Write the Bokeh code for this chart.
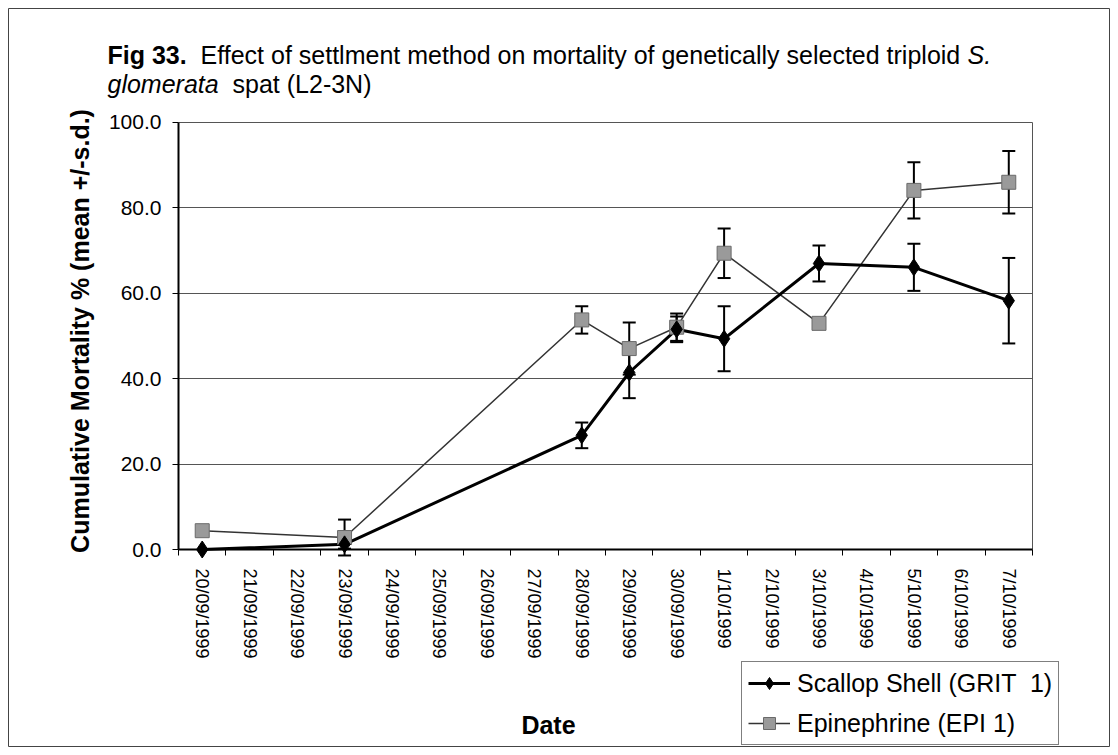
import math
from bokeh.plotting import figure
from bokeh.models import (ColumnDataSource, Range1d, FixedTicker, Whisker, TeeHead,
                          Legend, LegendItem, Label, NumeralTickFormatter, LinearAxis, Grid)
from bokeh.embed import file_html
from bokeh.resources import INLINE

# ---------------- data ----------------
days = ["20/09/1999", "21/09/1999", "22/09/1999", "23/09/1999", "24/09/1999",
        "25/09/1999", "26/09/1999", "27/09/1999", "28/09/1999", "29/09/1999",
        "30/09/1999", "1/10/1999", "2/10/1999", "3/10/1999", "4/10/1999",
        "5/10/1999", "6/10/1999", "7/10/1999"]
obs_days = ["20/09/1999", "23/09/1999", "28/09/1999", "29/09/1999", "30/09/1999",
            "1/10/1999", "3/10/1999", "5/10/1999", "7/10/1999"]
grit_mean = [0.0, 1.2, 26.7, 41.4, 51.5, 49.3, 66.9, 66.0, 58.2]
grit_sd = [0.0, 1.0, 3.0, 6.0, 3.0, 7.6, 4.2, 5.5, 10.0]
epi_mean = [4.4, 2.8, 53.7, 47.0, 52.0, 69.3, 52.9, 84.0, 85.9]
epi_sd = [0.0, 4.2, 3.2, 6.1, 3.2, 5.8, 1.0, 6.6, 7.3]
y_ticks = [0, 20, 40, 60, 80, 100]

grit_label = "Scallop Shell (GRIT  1)"
epi_label = "Epinephrine (EPI 1)"
x_title = "Date"
y_title = "Cumulative Mortality %  (mean +/-s.d.)"

FONT = "Liberation Sans"

# ---------------- layout (pixels) ----------------
FIG_W, FIG_H = 1110, 747
MB_L, MB_T, MB_R, MB_B = 8, 8, 0, 0
PLOT_L, PLOT_R, PLOT_T, PLOT_B = 178, 1032, 121.5, 549
N = len(days)
Y_MAX = 100.0

sx_unit = (PLOT_R - PLOT_L) / N
sy_unit = (PLOT_B - PLOT_T) / Y_MAX
x0 = -(PLOT_L - MB_L) / sx_unit
x1 = x0 + (FIG_W - MB_L - MB_R) / sx_unit
y1 = (PLOT_B - MB_T) / sy_unit
y0 = y1 - (FIG_H - MB_T - MB_B) / sy_unit


def dx(px):
    return (px - PLOT_L) / sx_unit


def dy(py):
    return (PLOT_B - py) / sy_unit


W_REG = {' ': 278, '(': 333, ')': 333, '-': 333, '.': 278, '/': 278, '2': 556, '3': 556,
         'E': 667, 'L': 556, 'N': 722, 'S': 667, 'a': 556, 'c': 500, 'd': 556, 'e': 556,
         'f': 278, 'g': 556, 'h': 556, 'i': 222, 'l': 222, 'm': 833, 'n': 556, 'o': 556,
         'p': 556, 'r': 333, 's': 500, 't': 278, 'y': 500}
W_BOLD = {'F': 611, 'i': 278, 'g': 611, ' ': 278, '3': 556, '.': 278}


def tw(s, px, bold=False):
    tab = W_BOLD if bold else W_REG
    return sum(tab.get(c, 556) for c in s) * px / 1000.0


x_pos = [days.index(d) + 0.5 for d in obs_days]

p = figure(width=FIG_W, height=FIG_H, output_backend="svg", toolbar_location=None,
           title=None, x_axis_location=None, y_axis_location=None,
           x_range=Range1d(x0, x1), y_range=Range1d(y0, y1),
           min_border_left=MB_L, min_border_right=MB_R, min_border_top=MB_T,
           min_border_bottom=MB_B)
p.outline_line_color = "#444"
p.outline_line_width = 1
for g in p.grid:
    g.visible = False

# grid lines inside the plot area + plot-area right border
try:
    hgrid = Grid(dimension=1, ticker=FixedTicker(ticks=y_ticks[1:]), bounds=(0, Y_MAX),
                 cross_bounds=(0, N), grid_line_color="#555", grid_line_width=1)
    vgrid = Grid(dimension=0, ticker=FixedTicker(ticks=[N]), bounds=(0, N),
                 cross_bounds=(0, Y_MAX), grid_line_color="#555", grid_line_width=1)
    p.add_layout(hgrid)
    p.add_layout(vgrid)
except Exception:
    p.segment(x0=[0] * (len(y_ticks) - 1), x1=[N] * (len(y_ticks) - 1),
              y0=y_ticks[1:], y1=y_ticks[1:], line_color="#555", line_width=1,
              level="underlay")
    p.segment(x0=[N], x1=[N], y0=[0], y1=[Y_MAX], line_color="#555", line_width=1,
              level="underlay")

# y axis
yaxis = LinearAxis(fixed_location=0, bounds=(0, Y_MAX),
                   ticker=FixedTicker(ticks=y_ticks),
                   formatter=NumeralTickFormatter(format="0.0"),
                   major_label_text_font=FONT, major_label_text_font_size="21px",
                   major_label_text_color="black",
                   major_tick_out=6, major_tick_in=0, minor_tick_out=0, minor_tick_in=0,
                   major_label_standoff=11, axis_line_width=2, axis_line_color="black",
                   major_tick_line_color="black")
p.add_layout(yaxis, "left")

# x axis (ticks between day categories, labels at category centres)
xaxis = LinearAxis(fixed_location=0, bounds=(0, N),
                   ticker=FixedTicker(ticks=[i + 0.5 for i in range(N)],
                                      minor_ticks=list(range(N + 1))),
                   major_label_overrides={i + 0.5: d for i, d in enumerate(days)},
                   major_label_orientation=-math.pi / 2,
                   major_label_text_font=FONT, major_label_text_font_size="18px",
                   major_label_text_color="black",
                   major_tick_out=0, major_tick_in=0, minor_tick_out=6, minor_tick_in=0,
                   minor_tick_line_color="black", major_label_standoff=13,
                   axis_line_color="black", axis_line_width=2)
p.add_layout(xaxis, "below")

# error bars
def whisker_source(means, sds):
    xs, lo, hi = [], [], []
    for x, m, s in zip(x_pos, means, sds):
        if s > 0:
            xs.append(x)
            lo.append(m - s)
            hi.append(m + s)
    return ColumnDataSource(dict(x=xs, lo=lo, hi=hi))

for means, sds in ((grit_mean, grit_sd), (epi_mean, epi_sd)):
    w = Whisker(source=whisker_source(means, sds), base="x", lower="lo", upper="hi",
                line_color="black", line_width=2, level="underlay",
                upper_head=TeeHead(size=13, line_color="black", line_width=2),
                lower_head=TeeHead(size=13, line_color="black", line_width=2))
    p.add_layout(w)

src_g = ColumnDataSource(dict(x=x_pos, y=grit_mean))
src_e = ColumnDataSource(dict(x=x_pos, y=epi_mean))

e_line = p.line("x", "y", source=src_e, line_color="#333333", line_width=1.5)
g_line = p.line("x", "y", source=src_g, line_color="black", line_width=3)
e_pts = p.scatter("x", "y", source=src_e, marker="square", size=14,
                  fill_color="#9a9a9a", line_color="#6a6a6a", line_width=1)
g_pts = p.scatter("x", "y", source=src_g, marker="diamond", size=17,
                  fill_color="black", line_color="black")

legend = Legend(items=[LegendItem(label=grit_label, renderers=[g_line, g_pts]),
                       LegendItem(label=epi_label, renderers=[e_line, e_pts])],
                location=(741 - MB_L, (FIG_H - MB_B) - 745),
                border_line_color="black", border_line_width=1,
                background_fill_color="white", background_fill_alpha=1,
                label_text_font=FONT, label_text_font_size="25px",
                label_text_color="black",
                glyph_width=42, glyph_height=30, label_height=30,
                label_standoff=7, spacing=10, padding=6, margin=0)
p.add_layout(legend)

# title (mixed styles)
TPX = 25
tx0 = 107
t1y, t2y = 54, 83
seg1 = "Fig 33."
seg2 = "Effect of settlment method on mortality of genetically selected triploid"
off2 = tw(seg1 + "  ", TPX, bold=True)
off3 = off2 + tw(seg2 + " ", TPX)
for txt, off, ry, style in ((seg1, 0, t1y, "bold"), (seg2, off2, t1y, "normal"),
                            ("S.", off3, t1y, "italic"),
                            ("glomerata", 0, t2y, "italic"),
                            ("spat (L2-3N)", tw("glomerata  ", TPX), t2y, "normal")):
    p.add_layout(Label(x=dx(tx0), y=dy(ry), x_offset=off,
                       text=txt, text_font=FONT, text_font_size=f"{TPX}px",
                       text_font_style=style, text_color="black",
                       text_align="left", text_baseline="middle"))

# axis titles
p.add_layout(Label(x=dx(548), y=dy(724), text=x_title, text_font=FONT,
                   text_font_size="25px", text_font_style="bold", text_color="black",
                   text_align="center", text_baseline="middle"))
p.add_layout(Label(x=dx(79), y=dy(327), text=y_title, angle=math.pi / 2,
                   text_font=FONT, text_font_size="25px", text_font_style="bold",
                   text_color="black", text_align="center", text_baseline="middle"))

open("out.html", "w").write(file_html(p, INLINE))
